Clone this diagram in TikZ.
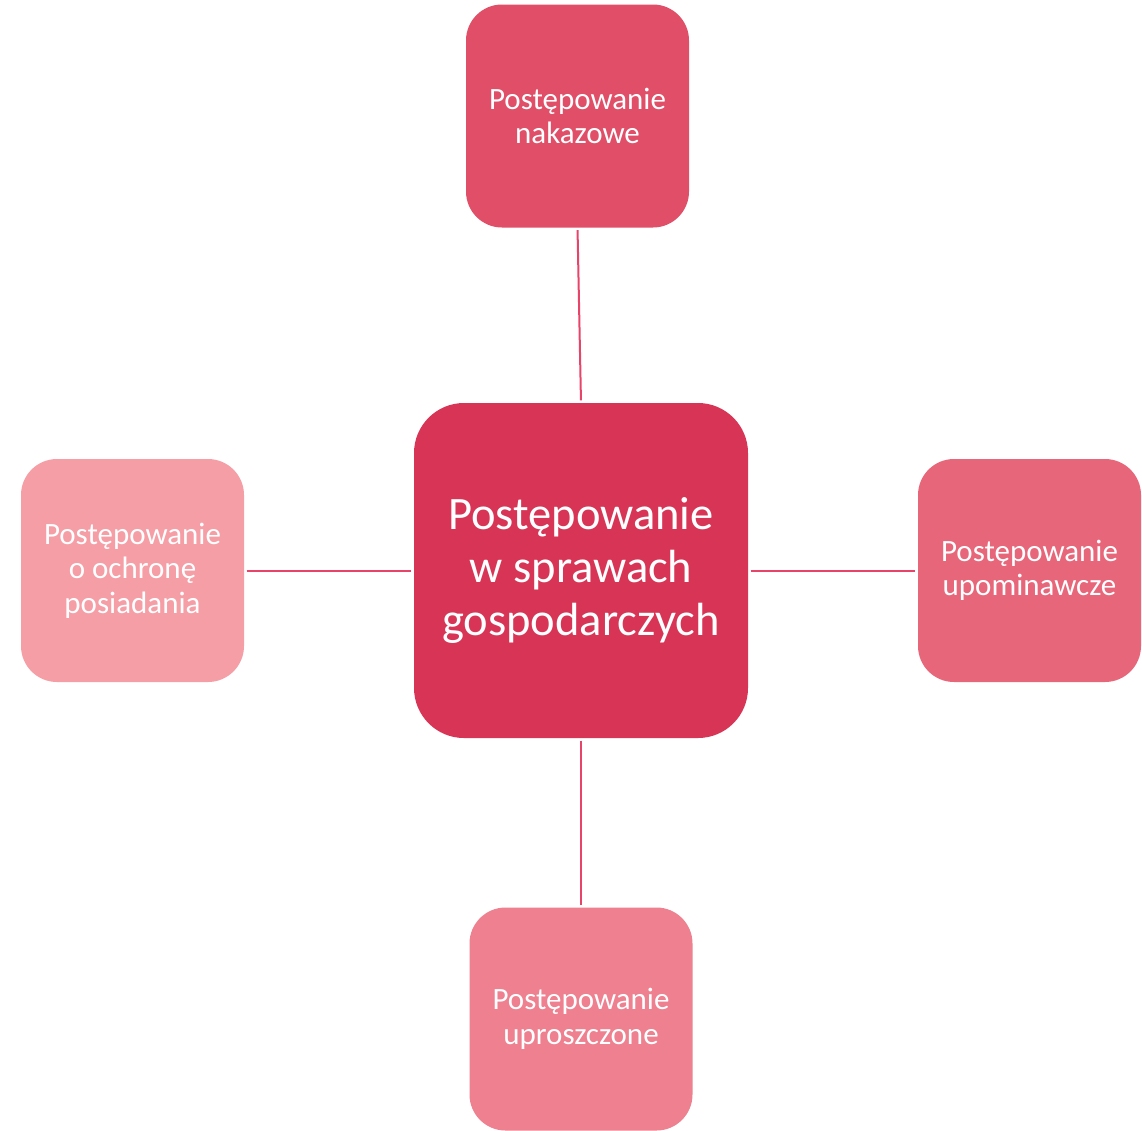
\documentclass[tikz,border=0pt]{standalone}
\usepackage{fontspec}
\setmainfont{Carlito}
\usepackage{tikz}

\begin{document}
\begin{tikzpicture}[x=1pt,y=-1pt]
\useasboundingbox (0,0) rectangle (1142,1130);
\tikzset{
  box/.style={rounded corners=36pt, minimum width=223pt, minimum height=223pt, inner sep=0pt,
    text=white, align=center, font=\fontsize{31}{34.5}\selectfont},
  mainbox/.style={box, rounded corners=50pt, minimum width=334pt, minimum height=335pt,
    font=\fontsize{46.5}{53}\selectfont},
  link/.style={draw={rgb,255:red,232;green,68;blue,106}, line width=2pt, shorten <=2.5pt, shorten >=2.5pt}
}

%Shape: Center
\node [mainbox, fill={rgb,255:red,216;green,53;blue,86}] (centre) at (581,570.5) {Postępowanie\\w sprawach\\gospodarczych};
%Shape: Top
\node [box, fill={rgb,255:red,224;green,78;blue,103}] (nakaz) at (577.5,116) {Postępowanie\\nakazowe};
%Shape: Right
\node [box, fill={rgb,255:red,232;green,102;blue,122}] (upomin) at (1029.5,570.5) {Postępowanie\\upominawcze};
%Shape: Bottom
\node [box, fill={rgb,255:red,238;green,128;blue,143}] (uproszcz) at (581,1019) {Postępowanie\\uproszczone};
%Shape: Left
\node [box, fill={rgb,255:red,245;green,158;blue,166}] (posiad) at (132.5,570.5) {Postępowanie\\o ochronę\\posiadania};

% Connectors
\draw [link] (nakaz.south) -- (centre.north);
\draw [link] (centre.east) -- (upomin.west);
\draw [link] (centre.south) -- (uproszcz.north);
\draw [link] (posiad.east) -- (centre.west);
\end{tikzpicture}
\end{document}
